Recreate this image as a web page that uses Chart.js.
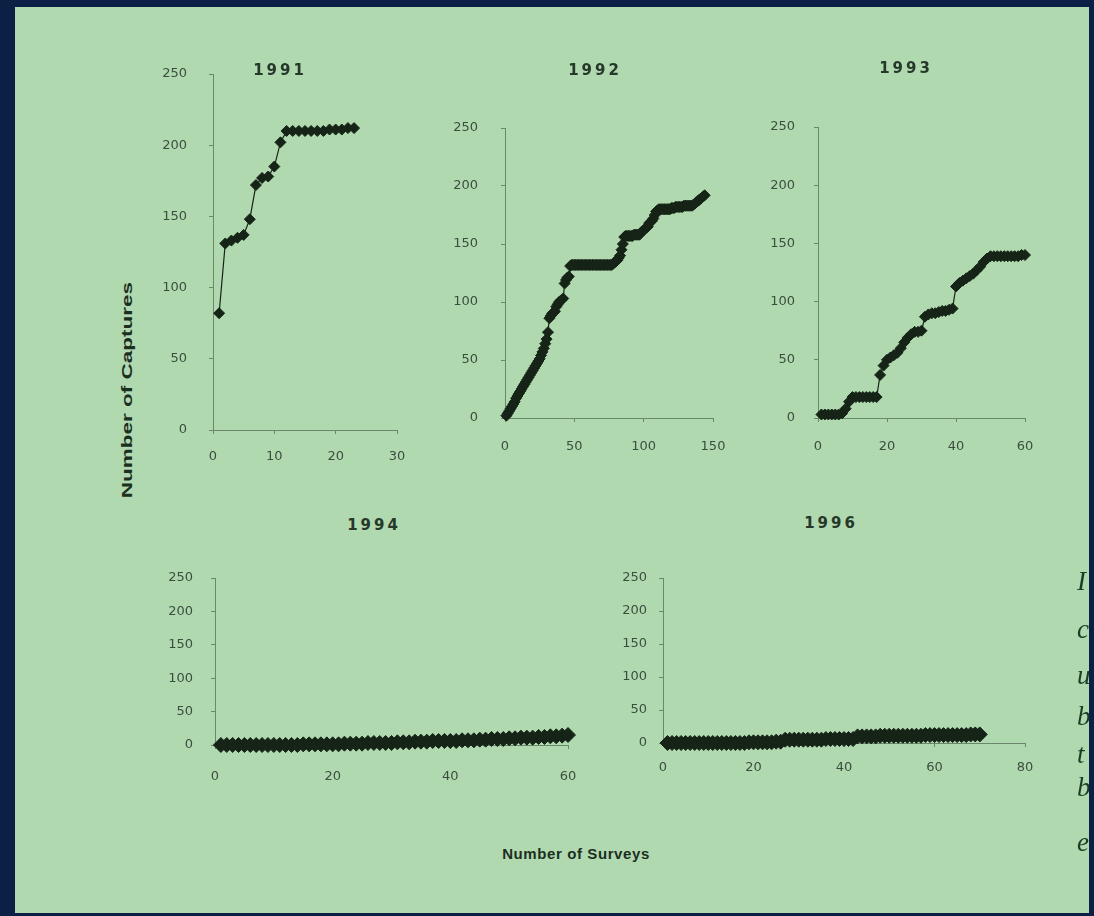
<!DOCTYPE html>
<html>
<head>
<meta charset="utf-8">
<script src="https://cdn.jsdelivr.net/npm/chart.js@4.4.1/dist/chart.umd.min.js"></script>
<style>
  html, body { margin:0; padding:0; }
  body { width:1094px; height:916px; background:#0c2046; position:relative; overflow:hidden; }
  #panel { position:absolute; left:15px; top:7px; width:1074px; height:906px; background:#b1d9b0; overflow:hidden; }
  canvas { position:absolute; }
  .title { position:absolute; font-family:"DejaVu Sans", sans-serif; font-weight:bold; font-size:15px; letter-spacing:3px; color:#26382a; transform:translate(-50%,-50%); white-space:nowrap; }
  .axis-label { position:absolute; font-family:"Liberation Sans", Arial, sans-serif; font-weight:bold; font-size:15px; color:#1b2f1f; white-space:nowrap; }
  .side { position:absolute; font-family:"Liberation Serif", serif; font-style:italic; font-size:27px; color:#1c3c24; }
</style>
</head>
<body>
<div id="panel"></div>
<script>
// ---- data (cumulative captures per survey) ----
const yearTitles = ["1991", "1992", "1993", "1994", "1996"];
const yTickValues = [0, 50, 100, 150, 200, 250];
const xMaxValues = [30, 150, 60, 60, 80];
const xStepValues = [10, 50, 20, 20, 20];

const captures1991 = [82,131,133,135,137,148,172,177,178,185,202,210,210,210,210,210,210,210,211,211,211,212,212];

const captures1992 = [
  2,4,6,8,10,12,14,17,19,21,
  23,25,27,29,31,33,35,37,39,41,
  43,45,47,49,51,54,57,60,64,68,
  74,86,88,90,91,92,96,98,100,101,
  102,103,116,119,121,122,131,132,132,132,
  132,132,132,132,132,132,132,132,132,132,
  132,132,132,132,132,132,132,132,132,132,
  132,132,132,132,132,132,132,133,134,135,
  136,138,140,145,150,156,157,157,157,157,
  157,157,158,158,158,158,158,160,161,162,
  163,164,165,168,169,170,172,175,178,179,
  180,180,180,180,180,180,180,180,180,181,
  181,181,182,182,182,182,182,182,183,183,
  183,183,183,183,183,184,185,186,187,188,
  189,190,191,192
];

const captures1993 = [
  3,3,3,3,3,3,4,8,14,18,
  18,18,18,18,18,18,18,37,45,50,
  52,54,56,60,65,69,72,74,74,75,
  87,89,90,90,91,92,92,93,94,113,
  116,118,120,122,124,127,130,134,137,139,
  139,139,139,139,139,139,139,139,140,140
];

const captures1994 = [
  0,0,0,0,0,0,0,0,0,0,
  0,0,0,0,1,1,1,1,1,1,
  1,2,2,2,2,3,3,3,3,3,
  4,4,4,5,5,5,6,6,6,6,
  6,7,7,7,8,8,9,9,9,10,
  10,11,11,11,12,12,13,13,14,15
];

const captures1996 = [
  0,0,0,0,0,0,0,0,0,0,
  0,0,0,0,0,0,0,0,1,1,
  1,1,1,1,2,2,5,5,5,5,
  5,5,5,5,5,6,6,6,6,6,
  6,6,10,10,10,10,10,11,11,11,
  11,11,11,11,11,11,11,12,12,12,
  12,12,12,12,12,12,12,13,13,13
];

const seriesList = [captures1991, captures1992, captures1993, captures1994, captures1996];

// ---- layout (page pixel positions of each plot area) ----
const frames = [
  { left:213, right:397, top:74,  bottom:430, yPad:22, xPad:15, radius:5.5, titleX:280, titleY:70 },
  { left:505, right:713, top:128, bottom:418, yPad:23, xPad:17, radius:5.5, titleX:595, titleY:70 },
  { left:818, right:1025,top:127, bottom:418, yPad:19, xPad:17, radius:5.5, titleX:906, titleY:68 },
  { left:215, right:568, top:578, bottom:745, yPad:18, xPad:20, radius:7.5, titleX:374, titleY:525 },
  { left:663, right:1025,top:578, bottom:743, yPad:12, xPad:13, radius:7.5, titleX:831, titleY:523 }
];

const panel = document.getElementById('panel');
const PX = 15, PY = 7;           // panel offset inside the page
const YW = 70, TP = 40, RP = 40, XH = 50;
const axisColor = '#6a876c';
const tickColor = '#3a4e3d';
const markColor = '#162417';

frames.forEach((f, k) => {
  const c = document.createElement('canvas');
  const w = YW + (f.right - f.left) + RP;
  const h = TP + (f.bottom - f.top) + XH;
  c.width = w; c.height = h;
  c.style.width = w + 'px'; c.style.height = h + 'px';
  c.style.left = (f.left - YW - PX) + 'px';
  c.style.top = (f.top - TP - PY) + 'px';
  panel.appendChild(c);

  const t = document.createElement('div');
  t.className = 'title';
  t.textContent = yearTitles[k];
  t.style.left = (f.titleX - PX) + 'px';
  t.style.top = (f.titleY - PY) + 'px';
  panel.appendChild(t);

  const vals = seriesList[k];
  new Chart(c, {
    type: 'scatter',
    data: {
      datasets: [{
        data: vals.map((v, i) => ({ x: i + 1, y: v })),
        showLine: true,
        borderColor: markColor,
        borderWidth: 1.2,
        pointStyle: 'rectRot',
        pointRadius: f.radius,
        pointBackgroundColor: markColor,
        pointBorderColor: markColor,
        pointBorderWidth: 1,
        clip: false
      }]
    },
    options: {
      responsive: false,
      animation: false,
      devicePixelRatio: 1,
      layout: { padding: { top: TP, right: RP, left: 0, bottom: 0 } },
      plugins: { legend: { display: false }, tooltip: { enabled: false } },
      scales: {
        x: {
          type: 'linear', min: 0, max: xMaxValues[k],
          ticks: { stepSize: xStepValues[k], color: tickColor, padding: f.xPad, maxRotation: 0,
                   font: { family: 'DejaVu Sans', size: 13 } },
          grid: { display: true, drawOnChartArea: false, drawTicks: true, tickLength: 4, color: axisColor },
          border: { display: true, color: axisColor, width: 1, dash: [10, 4] },
          afterFit: s => { s.height = XH; }
        },
        y: {
          type: 'linear', min: 0, max: 250,
          afterBuildTicks: s => { s.ticks = yTickValues.map(v => ({ value: v })); },
          ticks: { color: tickColor, padding: f.yPad,
                   font: { family: 'DejaVu Sans', size: 13 } },
          grid: { display: true, drawOnChartArea: false, drawTicks: true, tickLength: 4, color: axisColor },
          border: { display: true, color: axisColor, width: 1, dash: [6, 3] },
          afterFit: s => { s.width = YW; }
        }
      }
    }
  });
});

// shared axis titles
const yl = document.createElement('div');
yl.className = 'axis-label';
yl.textContent = 'Number of Captures';
yl.style.left = (126 - PX) + 'px';
yl.style.top = (390 - PY) + 'px';
yl.style.transform = 'translate(-50%,-50%) rotate(-90deg) scale(1.5,1)';
panel.appendChild(yl);

const xl = document.createElement('div');
xl.className = 'axis-label';
xl.textContent = 'Number of Surveys';
xl.style.left = (576 - PX) + 'px';
xl.style.top = (853 - PY) + 'px';
xl.style.letterSpacing = '0.6px';
xl.style.transform = 'translate(-50%,-50%)';
panel.appendChild(xl);

// cropped slide text at right edge
const sideLetters = [["I",582],["c",630],["u",676],["b",717],["t",755],["b",788],["e",843]];
sideLetters.forEach(([ch, y]) => {
  const d = document.createElement('div');
  d.className = 'side';
  d.textContent = ch;
  d.style.left = (1077 - PX) + 'px';
  d.style.top = (y - 16 - PY) + 'px';
  panel.appendChild(d);
});
</script>
</body>
</html>
